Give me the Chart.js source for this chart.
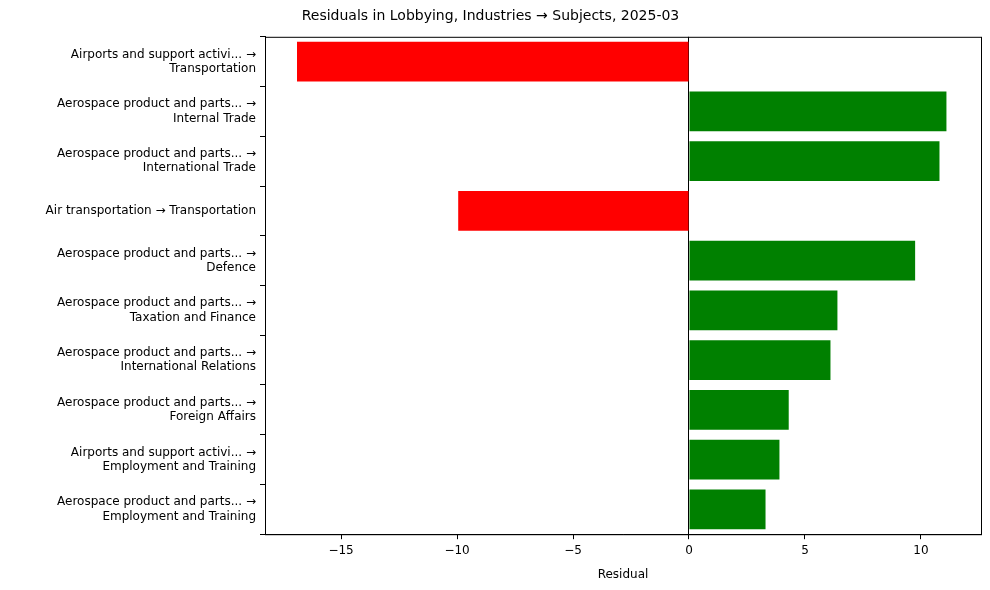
<!DOCTYPE html>
<html>
<head>
<meta charset="utf-8">
<script src="https://cdn.jsdelivr.net/npm/chart.js@4"></script>
<style>
  body { margin: 0; background: #fff; }
  #wrap { width: 990px; height: 590px; }
</style>
</head>
<body>
<div id="wrap"><canvas id="c"></canvas></div>
<script>
// labels, top to bottom
const labels = [
    ['Airports and support activi... →', 'Transportation'],
    ['Aerospace product and parts... →', 'Internal Trade'],
    ['Aerospace product and parts... →', 'International Trade'],
    'Air transportation → Transportation',
    ['Aerospace product and parts... →', 'Defence'],
    ['Aerospace product and parts... →', 'Taxation and Finance'],
    ['Aerospace product and parts... →', 'International Relations'],
    ['Aerospace product and parts... →', 'Foreign Affairs'],
    ['Airports and support activi... →', 'Employment and Training'],
    ['Aerospace product and parts... →', 'Employment and Training']
];
const residuals = [-16.9, 11.1, 10.8, -9.95, 9.75, 6.4, 6.1, 4.3, 3.9, 3.3];
const xTicks = [-15, -10, -5, 0, 5, 10];

Chart.defaults.font.family = 'DejaVu Sans';
Chart.defaults.font.size = 12;
Chart.defaults.color = '#000';

// frame around the plot area, like matplotlib
const frame = {
    id: 'frame',
    afterDraw(chart) {
        const { ctx, chartArea: a } = chart;
        ctx.save();
        ctx.strokeStyle = '#000';
        ctx.lineWidth = 1;
        ctx.strokeRect(a.left + 0.5, a.top + 0.5, a.right - a.left, a.bottom - a.top);
        ctx.restore();
    }
};

new Chart(document.getElementById('c'), {
    type: 'bar',
    data: {
        labels: labels,
        datasets: [{
            data: residuals,
            backgroundColor: residuals.map(v => v < 0 ? '#ff0000' : '#008000'),
            barPercentage: 0.8,
            categoryPercentage: 1
        }]
    },
    options: {
        indexAxis: 'y',
        responsive: true,
        maintainAspectRatio: false,
        animation: false,
        layout: { padding: { left: 0, right: 9, top: 0, bottom: 4 } },
        plugins: {
            legend: { display: false },
            tooltip: { enabled: false },
            title: {
                display: true,
                text: 'Residuals in Lobbying, Industries → Subjects, 2025-03',
                font: { size: 14, weight: 'normal' },
                padding: { top: 8, bottom: 12 }
            }
        },
        scales: {
            x: {
                min: -18.28,
                max: 12.59,
                afterBuildTicks: s => { s.ticks = xTicks.map(v => ({ value: v })); },
                ticks: { callback: v => v < 0 ? '−' + Math.abs(v) : String(v), padding: 4 },
                grid: {
                    drawOnChartArea: true,
                    tickLength: 5,
                    color: ctx => ctx.tick && ctx.tick.value === 0 ? '#000' : 'rgba(0,0,0,0)',
                    tickColor: '#000'
                },
                border: { color: '#000' },
                title: { display: true, text: 'Residual', padding: { top: 6 } }
            },
            y: {
                afterFit: s => { s.width = 265; },
                ticks: { padding: 4, crossAlign: 'near' },
                grid: { drawOnChartArea: false, tickLength: 5, color: '#000' },
                border: { color: '#000' }
            }
        }
    },
    plugins: [frame]
});
</script>
</body>
</html>
